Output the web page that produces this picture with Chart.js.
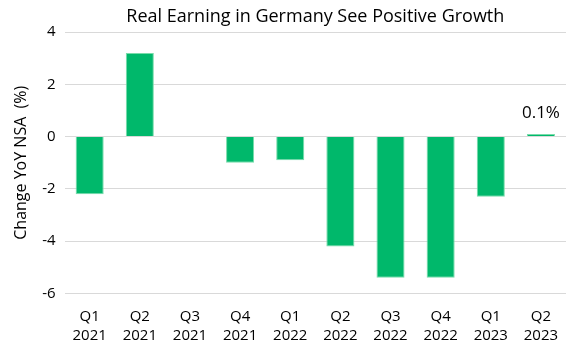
<!DOCTYPE html>
<html>
<head>
<meta charset="utf-8">
<script src="https://cdn.jsdelivr.net/npm/chart.js@4"></script>
<style>
  body { margin: 0; background: #fff; }
  #wrap { width: 580px; height: 350px; }
</style>
</head>
<body>
<div id="wrap"><canvas id="chart" width="580" height="350"></canvas></div>
<script>
const quarters = ["Q1", "Q2", "Q3", "Q4", "Q1", "Q2", "Q3", "Q4", "Q1", "Q2"];
const years = ["2021", "2021", "2021", "2021", "2022", "2022", "2022", "2022", "2023", "2023"];
const earningsChange = [-2.2, 3.2, null, -1.0, -0.9, -4.2, -5.4, -5.4, -2.3, 0.1];
const yTicks = [-6, -4, -2, 0, 2, 4];

const labels = quarters.map((q, i) => [q, years[i]]);
const green = "rgb(0, 184, 107)";
const fontFamily = "'Open Sans', sans-serif";

// title centred over the plot area, like the original
const plotTitle = {
  id: "plotTitle",
  afterDraw(chart) {
    const { ctx, chartArea } = chart;
    ctx.save();
    ctx.font = "18px " + fontFamily;
    ctx.fillStyle = "#000";
    ctx.textAlign = "center";
    ctx.textBaseline = "middle";
    ctx.fillText("Real Earning in Germany See Positive Growth", (chartArea.left + chartArea.right) / 2, 17);
    ctx.restore();
  }
};

// value label on the latest bar only
const lastLabel = {
  id: "lastLabel",
  afterDatasetsDraw(chart) {
    const { ctx } = chart;
    const meta = chart.getDatasetMeta(0);
    const i = earningsChange.length - 1;
    const bar = meta.data[i];
    ctx.save();
    ctx.font = "17px " + fontFamily;
    ctx.fillStyle = "#000";
    ctx.textAlign = "center";
    ctx.textBaseline = "alphabetic";
    ctx.fillText(earningsChange[i].toFixed(1) + "%", bar.x, bar.y - 16);
    ctx.restore();
  }
};

new Chart(document.getElementById("chart"), {
  type: "bar",
  data: {
    labels: labels,
    datasets: [{
      data: earningsChange,
      backgroundColor: green,
      borderColor: "rgba(120, 220, 170, 1)",
      borderWidth: 1,
      barPercentage: 0.56,
      categoryPercentage: 1.0
    }]
  },
  options: {
    responsive: false,
    animation: false,
    layout: { padding: { top: 32, right: 14, bottom: -1, left: 10 } },
    plugins: {
      legend: { display: false },
      title: { display: false },
      tooltip: { enabled: false }
    },
    scales: {
      x: {
        grid: { display: false },
        border: { display: false },
        ticks: { color: "#000", font: { family: fontFamily, size: 15, lineHeight: 1.25 }, maxRotation: 0, padding: 6 }
      },
      y: {
        min: -6,
        max: 4,
        afterBuildTicks(axis) { axis.ticks = yTicks.map(v => ({ value: v })); },
        grid: { color: "#d9d9d9", lineWidth: 1, drawTicks: false },
        border: { display: false },
        ticks: { color: "#000", font: { family: fontFamily, size: 15 }, padding: 9 },
        title: {
          display: true,
          text: "Change YoY NSA  (%)",
          color: "#000",
          font: { family: fontFamily, size: 16 },
          padding: { top: 2, bottom: 2 }
        }
      }
    }
  },
  plugins: [plotTitle, lastLabel]
});
</script>
</body>
</html>
